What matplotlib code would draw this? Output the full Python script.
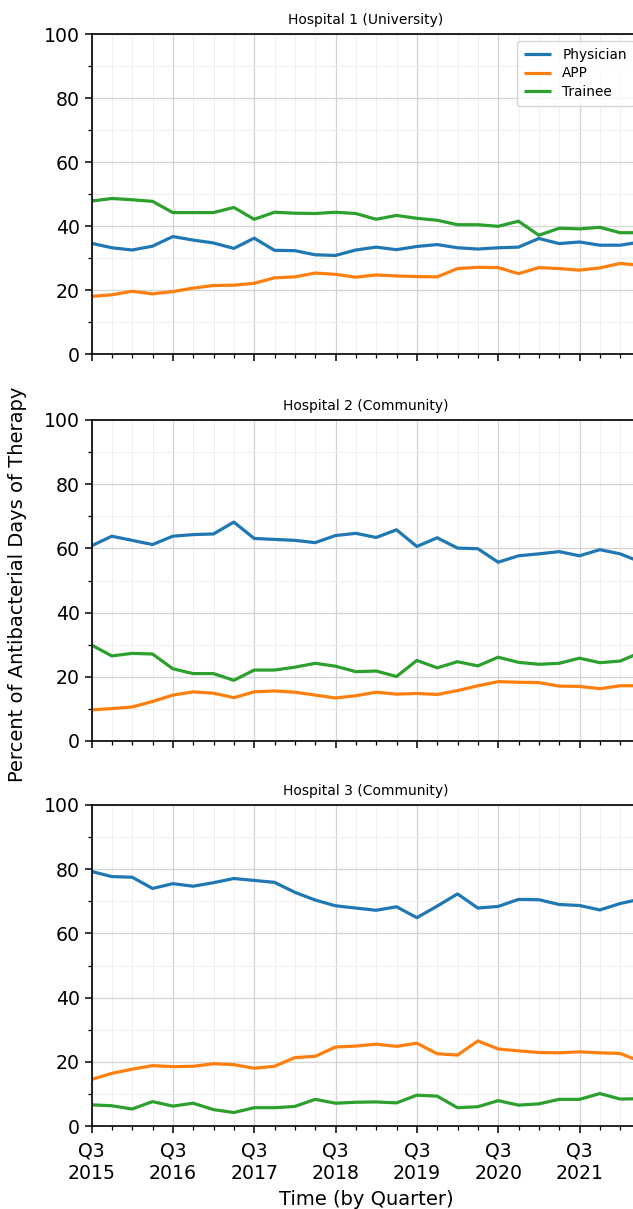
import matplotlib
matplotlib.use("Agg")
import matplotlib.pyplot as plt
from matplotlib.ticker import MultipleLocator, FixedLocator, FixedFormatter

# ---- data -------------------------------------------------------------
quarters = list(range(28))  # Q3 2015 ... Q2 2022
tick_positions = [0, 4, 8, 12, 16, 20, 24]
tick_labels = ["Q3\n2015", "Q3\n2016", "Q3\n2017", "Q3\n2018", "Q3\n2019", "Q3\n2020", "Q3\n2021"]
series_names = ["Physician", "APP", "Trainee"]
titles = ["Hospital 1 (University)", "Hospital 2 (Community)", "Hospital 3 (Community)"]

h1_physician = [34.6, 33.2, 32.5, 33.7, 36.7, 35.6, 34.7, 33.0, 36.2, 32.4, 32.3, 31.0, 30.8, 32.5,
                33.4, 32.6, 33.6, 34.2, 33.2, 32.8, 33.2, 33.4, 36.1, 34.5, 35.0, 34.0, 34.0, 35.0]
h1_app = [18.0, 18.5, 19.6, 18.8, 19.5, 20.6, 21.4, 21.5, 22.1, 23.8, 24.1, 25.3, 24.9, 24.0,
          24.7, 24.4, 24.2, 24.1, 26.7, 27.1, 27.0, 25.1, 27.0, 26.7, 26.2, 26.9, 28.3, 27.7]
h1_trainee = [47.8, 48.6, 48.2, 47.7, 44.2, 44.2, 44.2, 45.8, 42.1, 44.3, 44.0, 43.9, 44.3, 43.9,
              42.1, 43.3, 42.4, 41.8, 40.4, 40.4, 39.9, 41.5, 37.1, 39.3, 39.1, 39.6, 37.9, 37.9]

h2_physician = [60.8, 63.8, 62.5, 61.2, 63.8, 64.3, 64.5, 68.2, 63.1, 62.8, 62.5, 61.8, 64.0, 64.7,
                63.4, 65.8, 60.6, 63.3, 60.1, 59.9, 55.7, 57.7, 58.3, 59.0, 57.7, 59.6, 58.3, 55.8]
h2_app = [9.7, 10.1, 10.6, 12.3, 14.3, 15.3, 14.9, 13.5, 15.3, 15.6, 15.2, 14.3, 13.4, 14.1,
          15.2, 14.6, 14.8, 14.5, 15.7, 17.2, 18.5, 18.3, 18.2, 17.1, 17.0, 16.3, 17.2, 17.2]
h2_trainee = [29.9, 26.5, 27.3, 27.1, 22.5, 21.0, 21.0, 18.9, 22.1, 22.1, 23.0, 24.2, 23.3, 21.6,
              21.8, 20.1, 25.1, 22.8, 24.7, 23.4, 26.1, 24.5, 23.9, 24.2, 25.8, 24.4, 24.9, 27.6]

h3_physician = [79.3, 77.7, 77.5, 74.0, 75.5, 74.7, 75.8, 77.1, 76.5, 75.9, 72.8, 70.4, 68.6, 67.9,
                67.2, 68.3, 64.9, 68.5, 72.3, 67.9, 68.4, 70.6, 70.5, 69.0, 68.7, 67.3, 69.3, 70.7]
h3_app = [14.5, 16.4, 17.7, 18.8, 18.5, 18.6, 19.4, 19.1, 18.0, 18.6, 21.3, 21.7, 24.6, 24.9,
          25.5, 24.8, 25.8, 22.5, 22.1, 26.5, 24.0, 23.4, 22.9, 22.8, 23.1, 22.8, 22.6, 20.1]
h3_trainee = [6.6, 6.3, 5.3, 7.6, 6.2, 7.1, 5.1, 4.2, 5.7, 5.7, 6.1, 8.3, 7.1, 7.4,
              7.5, 7.2, 9.6, 9.3, 5.7, 6.0, 7.9, 6.5, 6.9, 8.3, 8.3, 10.1, 8.4, 8.5]

hospitals = [
    [h1_physician, h1_app, h1_trainee],
    [h2_physician, h2_app, h2_trainee],
    [h3_physician, h3_app, h3_trainee],
]
colors = ["#1f77b4", "#ff7f0e", "#2ca02c"]

# ---- figure -----------------------------------------------------------
W, H = 633, 1209
fig = plt.figure(figsize=(W / 100, H / 100), dpi=100)

left_px, right_px = 91.5, 640.5
panels_px = [(34, 354), (420, 741), (805, 1126)]

axes = []
for i, (top, bot) in enumerate(panels_px):
    ax = fig.add_axes([left_px / W, 1 - bot / H, (right_px - left_px) / W, (bot - top) / H])
    axes.append(ax)
    for vals, name, c in zip(hospitals[i], series_names, colors):
        ax.plot(quarters, vals, color=c, lw=2.3, label=name, solid_capstyle="butt")
    ax.set_xlim(0, 27)
    ax.set_ylim(0, 100)
    ax.xaxis.set_major_locator(FixedLocator(tick_positions))
    ax.xaxis.set_minor_locator(MultipleLocator(1))
    ax.yaxis.set_major_locator(MultipleLocator(20))
    ax.yaxis.set_minor_locator(MultipleLocator(10))
    if i == 2:
        ax.xaxis.set_major_formatter(FixedFormatter(tick_labels))
    else:
        ax.set_xticklabels([])
    ax.grid(which="major", color="#d4d4d4", lw=0.9)
    ax.grid(which="minor", color="#efefef", lw=0.7)
    ax.set_axisbelow(True)
    ax.tick_params(which="major", length=4.8, width=1.1, labelsize=13.6, direction="out")
    ax.tick_params(axis="x", which="major", pad=6.5)
    ax.tick_params(which="minor", length=2.8, width=0.9, direction="out")
    for s in ax.spines.values():
        s.set_linewidth(1.2)
    ax.set_title(titles[i], fontsize=10, pad=7)

axes[0].legend(loc="upper right", fontsize=9.8, framealpha=0.8, labelspacing=0.35,
               borderaxespad=0.5, borderpad=0.5)
axes[2].set_xlabel("Time (by Quarter)", fontsize=14, labelpad=5)
fig.text(0.028, 0.517, "Percent of Antibacterial Days of Therapy", rotation=90,
         ha="center", va="center", fontsize=14)

fig.savefig("out.png", dpi=100)
